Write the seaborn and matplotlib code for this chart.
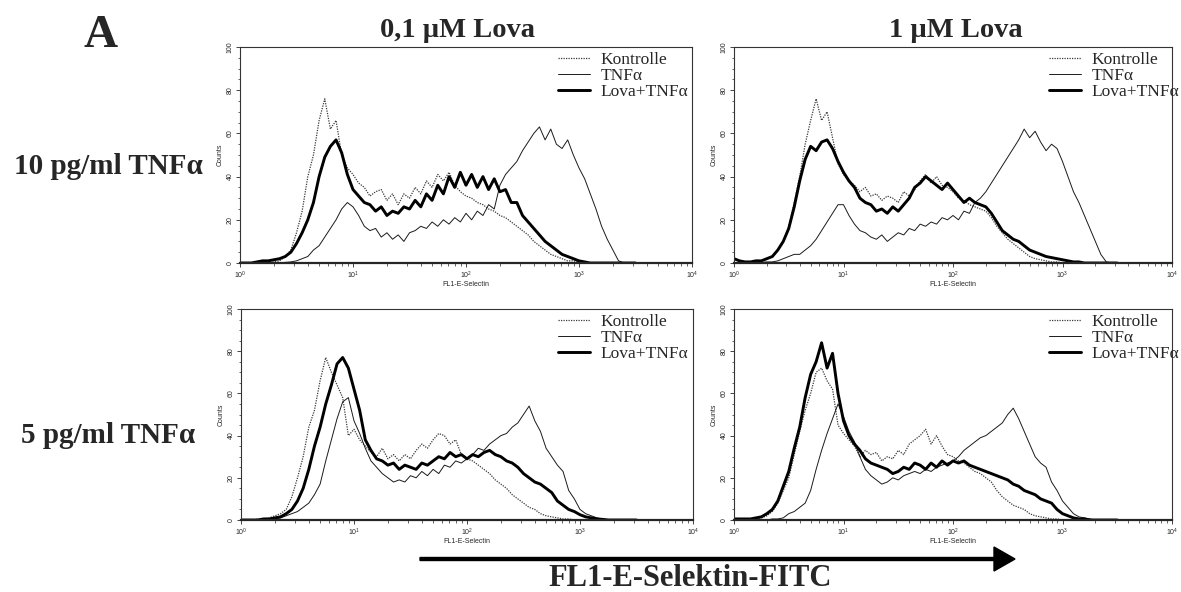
import numpy as np
import pandas as pd
import matplotlib
matplotlib.use("Agg")
import matplotlib.pyplot as plt
from matplotlib.ticker import MultipleLocator
import seaborn as sns

# series / labels
series_names = ["Kontrolle", "TNFα", "Lova+TNFα"]
col_titles = ["0,1 µM Lova", "1 µM Lova"]
row_titles = ["10 pg/ml TNFα", "5 pg/ml TNFα"]

# histogram channel positions (log10 of FL1), 0.05 decade steps
log_channel = np.linspace(0, 3.5, 71)

# counts, one row of ten = half a decade
# top left: 10 pg/ml TNFa, 0,1 uM Lova
tl_kontrolle = [0, 0, 0, 0, 0, 0.5, 0.5, 1, 3, 6,
                14, 24, 40, 50, 66, 76, 62, 66, 50, 44,
                41, 37, 35, 31, 33, 34, 29, 32, 27, 32,
                30, 35, 32, 38, 35, 41, 38, 42, 36, 33,
                31, 30, 28, 27, 25, 24, 22, 21, 19, 17,
                15, 13, 10, 8, 6, 4, 3, 2, 1, 1,
                0.5, 0, 0, 0, 0, 0, 0, 0, 0, 0,
                0]
tl_tnf = [0, 0, 0, 0, 0, 0, 0, 0, 0.3, 0.5,
          1, 2, 3, 6, 8, 12, 16, 20, 25, 28,
          26, 22, 17, 15, 16, 12, 14, 11, 13, 10,
          14, 15, 17, 16, 19, 17, 20, 18, 21, 19,
          23, 20, 24, 22, 27, 25, 36, 41, 44, 47,
          52, 56, 60, 63, 57, 62, 55, 53, 57, 50,
          44, 39, 32, 25, 17, 11, 6, 1, 0, 0,
          0]
tl_lova = [0, 0, 0, 0.5, 1, 1, 1.5, 2, 3, 5,
           9, 14, 20, 28, 40, 49, 54, 57, 51, 41,
           34, 31, 28, 27, 24, 26, 22, 24, 23, 26,
           25, 29, 26, 32, 29, 36, 32, 40, 35, 42,
           36, 41, 35, 40, 34, 39, 33, 34, 28, 28,
           22, 19, 16, 13, 10, 8, 6, 4, 3, 2,
           1, 0.5, 0, 0, 0, 0, 0, 0, 0, 0,
           0]

# top right: 10 pg/ml TNFa, 1 uM Lova
tr_kontrolle = [0, 0, 0, 0.5, 0.5, 1, 2, 3, 6, 10,
                17, 28, 40, 55, 66, 76, 66, 70, 58, 46,
                41, 38, 36, 33, 35, 31, 32, 29, 31, 30,
                28, 33, 31, 34, 38, 41, 37, 40, 36, 35,
                33, 30, 29, 27, 26, 25, 24, 21, 17, 14,
                11, 9, 7, 5, 3, 2, 1.5, 1, 0.5, 0.5,
                0, 0, 0, 0, 0, 0, 0, 0, 0, 0,
                0]
tr_tnf = [0, 0, 0, 0, 0, 0.3, 0.5, 0.5, 1, 2,
          3, 4, 4, 6, 8, 11, 15, 19, 23, 27,
          27, 22, 18, 15, 14, 12, 11, 13, 10, 12,
          14, 13, 16, 15, 18, 17, 19, 18, 21, 20,
          22, 20, 24, 23, 28, 30, 33, 37, 41, 45,
          49, 53, 57, 62, 58, 61, 56, 52, 55, 53,
          47, 40, 33, 28, 22, 16, 10, 4, 0.5, 0,
          0]
tr_lova = [2, 1, 0.5, 0.5, 1, 1, 2, 3, 6, 10,
           16, 26, 38, 48, 54, 52, 56, 57, 53, 47,
           42, 38, 35, 30, 28, 27, 24, 25, 23, 26,
           24, 27, 30, 35, 37, 40, 38, 36, 34, 37,
           34, 31, 28, 30, 28, 27, 26, 23, 19, 15,
           13, 11, 10, 8, 6, 5, 4, 3, 2.5, 2,
           1.5, 1, 0.5, 0.5, 0, 0, 0, 0, 0, 0,
           0]

# bottom left: 5 pg/ml TNFa, 0,1 uM Lova
bl_kontrolle = [0, 0, 0, 0.5, 0.5, 1, 2, 3, 5, 11,
                20, 30, 44, 52, 66, 77, 70, 64, 58, 40,
                43, 38, 35, 32, 30, 34, 29, 31, 28, 31,
                29, 33, 36, 34, 38, 41, 40, 36, 38, 31,
                29, 28, 26, 24, 22, 19, 17, 15, 12, 10,
                8, 6, 5, 3, 2, 1.5, 1, 0.5, 0.5, 0,
                0, 0, 0, 0, 0, 0, 0, 0, 0, 0,
                0]
bl_tnf = [0, 0, 0, 0, 0, 0, 0.5, 1, 2, 3,
          4, 6, 8, 12, 17, 28, 38, 48, 56, 58,
          47, 41, 34, 28, 25, 22, 20, 18, 19, 18,
          21, 20, 23, 21, 24, 22, 26, 25, 28, 27,
          29, 31, 34, 33, 36, 38, 40, 41, 44, 46,
          50, 54, 47, 42, 34, 30, 26, 23, 14, 10,
          5, 3, 2, 1, 0.5, 0, 0, 0, 0, 0,
          0]
bl_lova = [0, 0, 0, 0, 0.5, 0.5, 1, 1.5, 3, 5,
           9, 15, 24, 35, 44, 55, 64, 74, 77, 72,
           62, 52, 38, 33, 29, 28, 26, 27, 24, 26,
           25, 24, 27, 26, 28, 30, 29, 32, 30, 31,
           29, 31, 30, 32, 33, 31, 30, 28, 27, 25,
           22, 20, 18, 17, 15, 13, 9, 7, 5, 4,
           2.5, 1.5, 1, 0.5, 0.3, 0, 0, 0, 0, 0,
           0]

# bottom right: 5 pg/ml TNFa, 1 uM Lova
br_kontrolle = [0, 0, 0, 0.5, 0.5, 1, 2, 4, 8, 14,
                20, 31, 42, 52, 60, 70, 72, 66, 62, 45,
                41, 38, 35, 30, 33, 31, 32, 28, 30, 29,
                33, 31, 36, 38, 40, 43, 36, 40, 35, 31,
                30, 28, 27, 25, 23, 22, 20, 18, 14, 11,
                9, 7, 6, 5, 3, 2, 1.5, 1, 0.5, 0.5,
                0, 0, 0, 0, 0, 0, 0, 0, 0, 0,
                0]
br_tnf = [0, 0, 0, 0, 0, 0, 0, 0.5, 0.5, 1,
          3, 4, 6, 8, 14, 24, 33, 41, 48, 55,
          49, 42, 37, 30, 24, 21, 19, 17, 18, 20,
          19, 21, 22, 23, 22, 24, 23, 25, 26, 27,
          28, 30, 33, 35, 37, 39, 40, 42, 44, 46,
          50, 53, 48, 42, 36, 30, 27, 25, 18, 14,
          9, 6, 3, 1.5, 1, 0.5, 0, 0, 0, 0,
          0]
br_lova = [0.5, 0.5, 0.5, 0.5, 1, 1.5, 3, 5, 9, 16,
           23, 34, 44, 58, 69, 75, 84, 72, 79, 60,
           47, 40, 36, 33, 29, 27, 26, 25, 24, 22,
           23, 25, 24, 27, 26, 24, 27, 25, 28, 26,
           28, 27, 28, 26, 25, 24, 23, 22, 21, 20,
           19, 17, 16, 14, 13, 12, 10, 9, 8, 5,
           3, 2, 1, 0.5, 0.5, 0, 0, 0, 0, 0,
           0]

panels = {
    (0, 0): [tl_kontrolle, tl_tnf, tl_lova],
    (0, 1): [tr_kontrolle, tr_tnf, tr_lova],
    (1, 0): [bl_kontrolle, bl_tnf, bl_lova],
    (1, 1): [br_kontrolle, br_tnf, br_lova],
}

line_styles = {
    "Kontrolle": dict(color="#3a3a3a", linewidth=0.9, linestyle=(0, (1, 1))),
    "TNFα": dict(color="#1a1a1a", linewidth=0.7, linestyle="-"),
    "Lova+TNFα": dict(color="black", linewidth=2.1, linestyle="-"),
}

sns.set_style("ticks")
plt.rcParams["font.family"] = ["Liberation Sans", "DejaVu Sans"]

W, H = 1181, 592
fig = plt.figure(figsize=(W / 100, H / 100), dpi=100)


def px_box(left, top, right, bottom):
    return [left / W, 1 - bottom / H, (right - left) / W, (bottom - top) / H]


def fx(x):
    return x / W


def fy(y):
    return 1 - y / H


boxes = {
    (0, 0): px_box(240, 47, 692, 263),
    (0, 1): px_box(734, 47, 1172, 263),
    (1, 0): px_box(241, 309, 693, 520),
    (1, 1): px_box(734, 309, 1172, 520),
}
legend_corner = {
    (0, 0): (688, 52),
    (0, 1): (1179, 52),
    (1, 0): (688, 314),
    (1, 1): (1179, 314),
}

serif = ["Liberation Serif", "DejaVu Serif"]

for (r, c), curves in panels.items():
    ax = fig.add_axes(boxes[(r, c)])
    df = pd.DataFrame({
        "x": np.tile(10 ** log_channel, 3),
        "count": np.concatenate(curves),
        "cond": np.repeat(series_names, len(log_channel)),
    })
    for name in series_names:
        sub = df[df["cond"] == name]
        sns.lineplot(data=sub, x="x", y="count", ax=ax, label=name,
                     estimator=None, sort=False, **line_styles[name])
    ax.set_xscale("log")
    ax.set_xlim(1, 1e4)
    ax.set_ylim(0, 100)
    ax.yaxis.set_major_locator(MultipleLocator(20))
    ax.yaxis.set_minor_locator(MultipleLocator(5))
    ax.tick_params(axis="both", which="major", labelsize=5, length=3,
                   width=0.6, direction="out", pad=1.5)
    ax.tick_params(axis="both", which="minor", length=1.8, width=0.5)
    for lab in ax.get_yticklabels():
        lab.set_rotation(90)
        lab.set_va("center")
    ax.set_xlabel("FL1-E-Selectin", fontsize=5, labelpad=0)
    ax.set_ylabel("Counts", fontsize=5, labelpad=2)
    for side in ["top", "left", "right"]:
        ax.spines[side].set_linewidth(0.8)
        ax.spines[side].set_color("#333333")
    ax.spines["bottom"].set_linewidth(1.6)
    lx, ly = legend_corner[(r, c)]
    ax.legend(loc="upper right", bbox_to_anchor=(fx(lx), fy(ly)),
              bbox_transform=fig.transFigure, frameon=False,
              prop={"family": serif, "size": 12.5},
              labelspacing=0.0, handlelength=1.85, handletextpad=0.57,
              borderaxespad=0, borderpad=0)

# column and row titles
title_kw = dict(family=serif, fontweight="bold")
fig.text(fx(458), fy(37), col_titles[0], ha="center", va="baseline",
         fontsize=20.5, **title_kw)
fig.text(fx(956), fy(37), col_titles[1], ha="center", va="baseline",
         fontsize=20.5, **title_kw)
fig.text(fx(108), fy(174), row_titles[0], ha="center", va="baseline",
         fontsize=21, **title_kw)
fig.text(fx(108), fy(443), row_titles[1], ha="center", va="baseline",
         fontsize=21, **title_kw)
fig.text(fx(101), fy(47), "A", ha="center", va="baseline",
         fontsize=34, **title_kw)

# axis arrow
fig.patches.append(matplotlib.patches.FancyArrow(
    fx(420), fy(559), 595 / W, 0, width=3 / H, head_width=24 / H,
    head_length=21 / W, length_includes_head=True, color="black",
    transform=fig.transFigure, figure=fig))
fig.text(fx(690), fy(586), "FL1-E-Selektin-FITC", ha="center", va="baseline",
         fontsize=22, **title_kw)

fig.savefig("out.png", dpi=100)
